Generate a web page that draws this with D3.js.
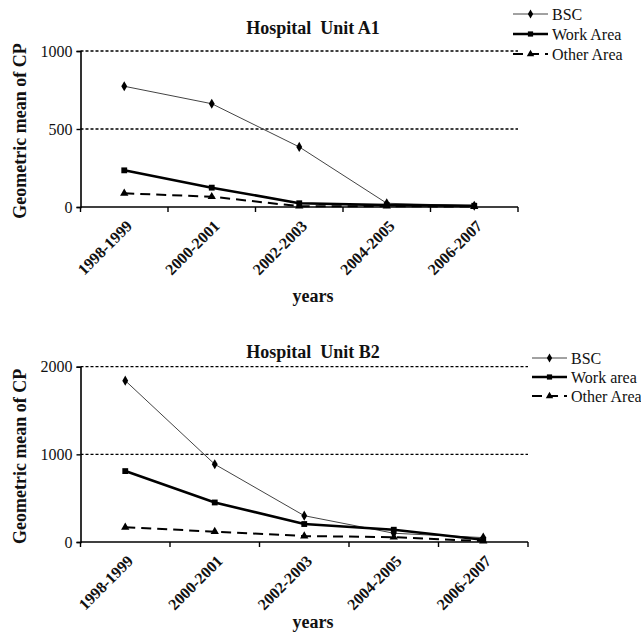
<!DOCTYPE html>
<html lang="en">
<head>
  <meta charset="UTF-8">
  <title>Geometric mean of CP - Hospital Units</title>
  <script src="https://d3js.org/d3.v7.min.js"></script>
  <style>
    body { margin: 0; background: #fff; }
  </style>
</head>
<body>
  <div id="chart"></div>
  <script>
    // data
    var years = ["1998-1999", "2000-2001", "2002-2003", "2004-2005", "2006-2007"];

    var a1Bsc   = [774, 662, 385, 24, 8];
    var a1Work  = [235, 124, 24, 12, 8];
    var a1Other = [88, 66, 5, 5, 3];
    var a1Ticks = [0, 500, 1000];

    var b2Bsc   = [1841, 887, 300, 100, 50];
    var b2Work  = [809, 451, 205, 140, 25];
    var b2Other = [168, 118, 68, 55, 10];
    var b2Ticks = [0, 1000, 2000];

    var FONT = "'Liberation Serif', 'Times New Roman', 'DejaVu Serif', serif";

    var svg = d3.select("#chart").append("svg")
      .attr("width", 641)
      .attr("height", 636)
      .style("font-family", FONT);

    // line styles for the 3 series
    var styles = [
      { stroke: "#444", width: 1, dash: null, marker: d3.symbolDiamond, size: 30 },
      { stroke: "#000", width: 2.6, dash: null, marker: d3.symbolSquare, size: 34 },
      { stroke: "#000", width: 2, dash: "10,6", marker: d3.symbolTriangle, size: 30 }
    ];

    function txt(sel) {
      return sel.attr("font-family", FONT).style("font-family", FONT).attr("fill", "#111");
    }

    function drawPanel(p) {
      var g = svg.append("g");

      var x = d3.scaleBand().domain(years).range([p.left, p.right]);
      var y = d3.scaleLinear().domain([0, p.max]).range([p.bottom, p.top]);

      // dotted gridlines
      g.selectAll(".grid").data(p.ticks.filter(function (d) { return d > 0; }))
        .enter().append("line")
        .attr("x1", p.left).attr("x2", p.right)
        .attr("y1", function (d) { return y(d); })
        .attr("y2", function (d) { return y(d); })
        .attr("stroke", "#000").attr("stroke-width", 1.3)
        .attr("stroke-dasharray", "3,2");

      // y axis
      var yAxis = g.append("g")
        .attr("transform", "translate(" + p.left + ",0)")
        .call(d3.axisLeft(y).tickValues(p.ticks).tickSize(4).tickPadding(4).tickFormat(d3.format("d")));
      yAxis.attr("font-family", FONT);
      yAxis.select(".domain").attr("stroke", "#000").attr("stroke-width", 1.6);
      yAxis.selectAll(".tick line").attr("stroke-width", 1.4);
      txt(yAxis.selectAll("text")).style("font-size", "16px");

      // x axis: ticks at band edges
      g.append("line")
        .attr("x1", p.left).attr("x2", p.right)
        .attr("y1", p.bottom).attr("y2", p.bottom)
        .attr("stroke", "#000").attr("stroke-width", 1.6);
      var edges = years.map(function (d) { return x(d); }).concat([p.right]);
      g.selectAll(".xt").data(edges).enter().append("line")
        .attr("x1", function (d) { return d; }).attr("x2", function (d) { return d; })
        .attr("y1", p.bottom).attr("y2", p.bottom + 5)
        .attr("stroke", "#000").attr("stroke-width", 1.4);

      txt(g.selectAll(".xl").data(years).enter().append("text"))
        .attr("transform", function (d) {
          var cx = x(d) + x.bandwidth() / 2 + p.lblDx;
          return "translate(" + cx + "," + (p.bottom + p.lblDy) + ") rotate(-45)";
        })
        .attr("text-anchor", "end")
        .style("font-size", "16px").style("font-weight", "bold")
        .text(function (d) { return d; });

      // series
      var line = d3.line()
        .x(function (d, i) { return x(years[i]) + x.bandwidth() / 2; })
        .y(function (d) { return y(d); });

      p.series.forEach(function (vals, k) {
        var st = styles[k];
        g.append("path").datum(vals)
          .attr("d", line)
          .attr("fill", "none")
          .attr("stroke", st.stroke)
          .attr("stroke-width", st.width)
          .attr("stroke-dasharray", st.dash);
        g.selectAll(".m" + k).data(vals).enter().append("path")
          .attr("d", d3.symbol().type(st.marker).size(st.size))
          .attr("transform", function (d, i) {
            return "translate(" + (x(years[i]) + x.bandwidth() / 2) + "," + y(d) + ")";
          })
          .attr("fill", "#000");
      });

      // title
      txt(g.append("text"))
        .attr("x", 313).attr("y", p.titleY)
        .attr("text-anchor", "middle")
        .attr("xml:space", "preserve")
        .style("white-space", "pre")
        .style("font-size", "18px").style("font-weight", "bold")
        .text(p.title);

      // y label
      txt(g.append("text"))
        .attr("transform", "translate(26," + ((p.top + p.bottom) / 2 + 2) + ") rotate(-90)")
        .attr("text-anchor", "middle")
        .style("font-size", "18px").style("font-weight", "bold")
        .text("Geometric mean of CP");

      // x label
      txt(g.append("text"))
        .attr("x", 313).attr("y", p.yearsY)
        .attr("text-anchor", "middle")
        .style("font-size", "18px").style("font-weight", "bold")
        .text("years");

      // legend
      p.legend.forEach(function (name, k) {
        var st = styles[k];
        var ly = p.legY + k * p.legStep;
        g.append("line")
          .attr("x1", p.legX).attr("x2", p.legX + 35)
          .attr("y1", ly).attr("y2", ly)
          .attr("stroke", st.stroke).attr("stroke-width", st.width)
          .attr("stroke-dasharray", k === 2 ? "10,6" : null);
        g.append("path")
          .attr("d", d3.symbol().type(st.marker).size(st.size * 0.8))
          .attr("transform", "translate(" + (p.legX + 17.5) + "," + ly + ")")
          .attr("fill", "#000");
        txt(g.append("text"))
          .attr("x", p.legX + 39).attr("y", ly + 5.5)
          .style("font-size", "16px")
          .text(name);
      });
    }

    drawPanel({
      title: "Hospital  Unit A1",
      left: 80.5, right: 518, top: 51, bottom: 207, max: 1000,
      ticks: a1Ticks,
      series: [a1Bsc, a1Work, a1Other],
      legend: ["BSC", "Work Area", "Other Area"],
      legX: 513, legY: 14, legStep: 20,
      titleY: 34, yearsY: 302, lblDx: 9, lblDy: 20
    });

    drawPanel({
      title: "Hospital  Unit B2",
      left: 80.5, right: 528, top: 366.7, bottom: 542, max: 2000,
      ticks: b2Ticks,
      series: [b2Bsc, b2Work, b2Other],
      legend: ["BSC", "Work area", "Other Area"],
      legX: 532, legY: 358, legStep: 19,
      titleY: 358, yearsY: 628, lblDx: 9, lblDy: 20
    });
  </script>
</body>
</html>
